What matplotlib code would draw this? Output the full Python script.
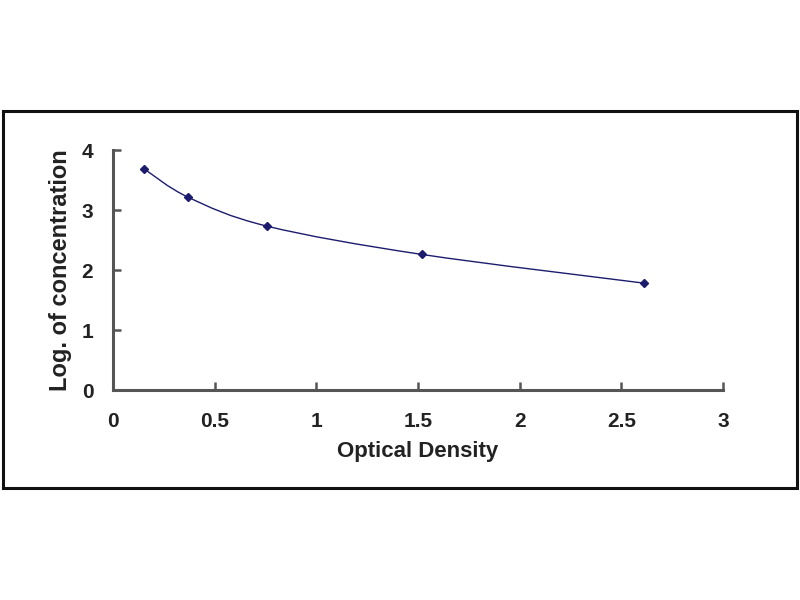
import numpy as np
import matplotlib
matplotlib.use("Agg")
import matplotlib.pyplot as plt
from matplotlib.path import Path
from matplotlib.patches import PathPatch, Rectangle

# standard curve
od = [0.152, 0.372, 0.759, 1.518, 2.613]
log_conc = [3.69, 3.21, 2.73, 2.26, 1.78]
xticks = [0, 0.5, 1, 1.5, 2, 2.5, 3]
xticklabels = ["0", "0.5", "1", "1.5", "2", "2.5", "3"]
yticks = [0, 1, 2, 3, 4]

plt.rcParams["font.family"] = ["Liberation Sans", "DejaVu Sans"]
plt.rcParams["font.weight"] = "bold"

LINE = "#1c1c6e"
AXC = "#555555"
TXT = "#222222"


def smooth_path(x, y, t=1 / 6):
    # Catmull-Rom style bezier, like a spreadsheet "smoothed line"
    x = np.asarray(x, float); y = np.asarray(y, float)
    verts = [(x[0], y[0])]
    codes = [Path.MOVETO]
    n = len(x)
    for i in range(n - 1):
        p0 = i - 1 if i > 0 else i
        p3 = i + 2 if i + 2 < n else i + 1
        c1 = (x[i] + (x[i + 1] - x[p0]) * t, y[i] + (y[i + 1] - y[p0]) * t)
        c2 = (x[i + 1] - (x[p3] - x[i]) * t, y[i + 1] - (y[p3] - y[i]) * t)
        verts += [c1, c2, (x[i + 1], y[i + 1])]
        codes += [Path.CURVE4] * 3
    return Path(verts, codes)


fig = plt.figure(figsize=(8, 6), dpi=100)
fig.patches.append(Rectangle((0.004, 0.187), 0.992, 0.628, transform=fig.transFigure,
                             fill=False, edgecolor="#111111", lw=2.2))
ax = fig.add_axes([0.141, 0.35, 0.763, 0.40])

ax.add_patch(PathPatch(smooth_path(od, log_conc), fill=False, edgecolor=LINE, lw=1.0))
ax.plot(od, log_conc, ls="none", marker="D", ms=4.5, color=LINE)

ax.set_xlim(0, 3); ax.set_ylim(0, 4)
ax.set_xticks(xticks); ax.set_xticklabels(xticklabels)
ax.set_yticks(yticks)
for s in ("top", "right"):
    ax.spines[s].set_visible(False)
for s in ("left", "bottom"):
    ax.spines[s].set_color(AXC); ax.spines[s].set_linewidth(2.2)
ax.tick_params(direction="in", length=6, width=1.8, color=AXC, labelsize=15,
               labelcolor=TXT)
ax.tick_params(axis="x", pad=16)
ax.tick_params(axis="y", pad=14)
ax.set_xlabel("Optical Density", fontsize=16, fontweight="bold", color=TXT, labelpad=7)
ax.set_ylabel("Log. of concentration", fontsize=17, fontweight="bold", color=TXT,
              labelpad=7)

fig.savefig("out.png")
